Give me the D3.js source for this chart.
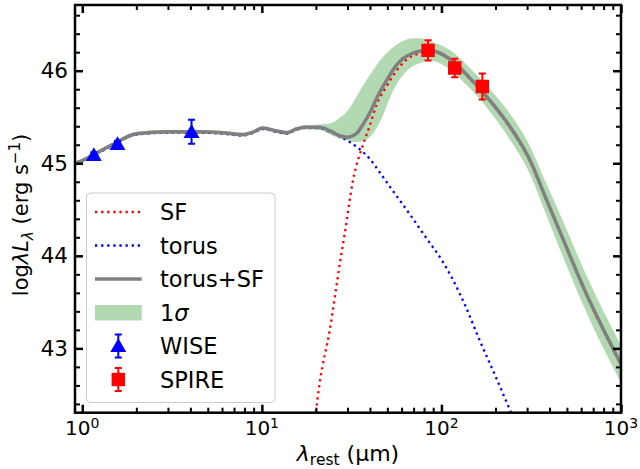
<!DOCTYPE html>
<html>
<head>
<meta charset="utf-8">
<script src="https://cdn.jsdelivr.net/npm/d3@7"></script>
<style>
body { margin: 0; background: #fff; }
svg { display: block; font-family: "DejaVu Sans", sans-serif; }
</style>
</head>
<body>
<div id="chart"></div>
<script>
// model grid (rest wavelength, micron) with total model and 1 sigma range
var modelWave  = [0.91, 1.0, 1.2, 1.5, 2.0, 3.0, 4.5, 6.0, 7.8, 9.0, 10.1, 12, 13.8, 15.5, 17.3, 21, 24, 27, 29.6, 33.6, 36.6, 39.8, 43.5, 47.3, 51.5, 56.2, 61, 69.5, 75.7, 86, 98, 116, 144, 186, 240, 310, 384, 455, 641, 1000];
var modelTotal = [45.00, 45.03, 45.11, 45.21, 45.32, 45.34, 45.34, 45.33, 45.31, 45.34, 45.38, 45.35, 45.33, 45.37, 45.39, 45.39, 45.35, 45.30, 45.28, 45.32, 45.42, 45.54, 45.70, 45.83, 45.95, 46.06, 46.13, 46.19, 46.21, 46.22, 46.19, 46.10, 45.92, 45.68, 45.40, 45.04, 44.61, 44.27, 43.59, 42.83];
var modelLow   = [44.98, 45.01, 45.09, 45.19, 45.30, 45.32, 45.32, 45.31, 45.29, 45.32, 45.36, 45.33, 45.31, 45.35, 45.37, 45.36, 45.31, 45.27, 45.25, 45.23, 45.24, 45.28, 45.38, 45.52, 45.70, 45.85, 45.95, 46.05, 46.08, 46.11, 46.08, 45.98, 45.81, 45.56, 45.26, 44.89, 44.44, 44.08, 43.39, 42.63];
var modelHigh  = [45.02, 45.05, 45.13, 45.23, 45.34, 45.36, 45.36, 45.35, 45.33, 45.36, 45.40, 45.37, 45.35, 45.39, 45.41, 45.42, 45.43, 45.49, 45.55, 45.72, 45.84, 45.95, 46.06, 46.15, 46.22, 46.28, 46.32, 46.35, 46.35, 46.32, 46.28, 46.20, 46.03, 45.80, 45.54, 45.19, 44.78, 44.46, 43.79, 43.03];

// torus component
var torusWave = [0.91, 1.0, 1.2, 1.5, 2.0, 3.0, 4.5, 6.0, 7.8, 9.0, 10.1, 12, 13.8, 15.5, 17.3, 21, 24, 27, 29.6, 33.6, 36.6, 39.8, 45.4, 51.5, 58.6, 69.5, 82.5, 100, 116, 138, 163, 200, 240, 260];
var torusLum  = [44.99, 45.02, 45.10, 45.20, 45.31, 45.33, 45.33, 45.32, 45.30, 45.33, 45.37, 45.34, 45.32, 45.36, 45.38, 45.38, 45.34, 45.29, 45.25, 45.18, 45.12, 45.05, 44.90, 44.75, 44.60, 44.40, 44.19, 43.96, 43.74, 43.43, 43.09, 42.70, 42.34, 42.18];

// star formation component
var sfWave = [19.8, 21, 23.9, 27.2, 29, 32.2, 36.6, 39.8, 43.5, 49.4, 56.2, 64, 75.7, 86, 98, 116, 144, 186, 240, 310, 384, 455, 641, 1000];
var sfLum  = [42.25, 42.63, 43.20, 43.92, 44.25, 44.82, 45.20, 45.40, 45.63, 45.83, 46.00, 46.12, 46.19, 46.21, 46.18, 46.09, 45.91, 45.67, 45.39, 45.03, 44.60, 44.26, 43.58, 42.82];

// photometry
var wiseWave = [1.16, 1.57, 4.06];
var wiseLum  = [45.09, 45.21, 45.34];
var wiseErr  = [0.03, 0.03, 0.13];
var spireWave = [84.3, 118.6, 169];
var spireLum  = [46.22, 46.03, 45.83];
var spireErr  = [0.11, 0.10, 0.14];

var legendLabels = ['SF', 'torus', 'torus+SF', '1σ', 'WISE', 'SPIRE'];

var svgWidth = 640;
var svgHeight = 469;
var margin = { top: 5, right: 19, bottom: 56.3, left: 75 };
var width = svgWidth - margin.left - margin.right;
var height = svgHeight - margin.top - margin.bottom;

var svg = d3.select('#chart').append('svg')
    .attr('width', svgWidth)
    .attr('height', svgHeight);

var chartGroup = svg.append('g')
    .attr('transform', `translate(${margin.left},${margin.top})`);

var x = d3.scaleLog().domain([0.911, 1000]).range([0, width]);
var y = d3.scaleLinear().domain([42.305, 46.71]).range([height, 0]);

chartGroup.append('clipPath').attr('id', 'clip')
    .append('rect').attr('width', width).attr('height', height);

var plot = chartGroup.append('g').attr('clip-path', 'url(#clip)');

// 1 sigma band
var band = modelWave.map((w, i) => ({ w: w, lo: modelLow[i], hi: modelHigh[i] }));
plot.append('path')
    .datum(band)
    .attr('d', d3.area().curve(d3.curveMonotoneX)
        .x(d => x(d.w)).y0(d => y(d.lo)).y1(d => y(d.hi)))
    .attr('fill', 'green')
    .attr('fill-opacity', 0.3);

var line = d3.line().curve(d3.curveMonotoneX).x(d => x(d[0])).y(d => y(d[1]));

plot.append('path')
    .datum(sfWave.map((w, i) => [w, sfLum[i]]))
    .attr('d', line)
    .attr('fill', 'none').attr('stroke', 'red')
    .attr('stroke-width', 2.3).attr('stroke-dasharray', '2.3,3.8');

plot.append('path')
    .datum(torusWave.map((w, i) => [w, torusLum[i]]))
    .attr('d', line)
    .attr('fill', 'none').attr('stroke', 'blue')
    .attr('stroke-width', 2.3).attr('stroke-dasharray', '2.3,3.8');

plot.append('path')
    .datum(modelWave.map((w, i) => [w, modelTotal[i]]))
    .attr('d', line)
    .attr('fill', 'none').attr('stroke', 'gray')
    .attr('stroke-width', 3.5);

// error bars + markers
function drawPoints(g, waves, lums, errs, color, shape) {
    waves.forEach(function(w, i) {
        var cx = x(w), cy = y(lums[i]);
        var y1 = y(lums[i] + errs[i]), y2 = y(lums[i] - errs[i]);
        g.append('line').attr('x1', cx).attr('x2', cx).attr('y1', y1).attr('y2', y2)
            .attr('stroke', color).attr('stroke-width', 2);
        [y1, y2].forEach(function(yy) {
            g.append('line').attr('x1', cx - 3.5).attr('x2', cx + 3.5).attr('y1', yy).attr('y2', yy)
                .attr('stroke', color).attr('stroke-width', 2);
        });
        g.append('path')
            .attr('d', d3.symbol().type(shape).size(shape === d3.symbolSquare ? 180 : 110)())
            .attr('transform', shape === d3.symbolSquare ? `translate(${cx},${cy})` : `translate(${cx},${cy + 1.5})`)
            .attr('fill', color);
    });
}
drawPoints(plot, wiseWave, wiseLum, wiseErr, 'blue', d3.symbolTriangle);
drawPoints(plot, spireWave, spireLum, spireErr, 'red', d3.symbolSquare);

// axes with inward ticks on all four sides
var xMajor = [1, 10, 100, 1000];
var xMinor = [];
[1, 10, 100].forEach(function(dec) {
    for (var k = 2; k <= 9; k++) xMinor.push(dec * k);
});
var yMajor = [43, 44, 45, 46];
var yMinor = [];
for (var v = 42.4; v < 46.7; v += 0.2) {
    var r = Math.round(v * 10) / 10;
    if (yMajor.indexOf(r) < 0) yMinor.push(r);
}

function styleAxis(g, w) {
    g.select('.domain').remove();
    g.selectAll('line').attr('stroke', 'black').attr('stroke-width', w);
    g.selectAll('text').remove();
}

chartGroup.append('g').attr('transform', `translate(0,${height})`)
    .call(d3.axisBottom(x).tickValues(xMajor).tickSize(-8)).call(styleAxis, 2.5);
chartGroup.append('g').attr('transform', `translate(0,${height})`)
    .call(d3.axisBottom(x).tickValues(xMinor).tickSize(-5)).call(styleAxis, 2);
chartGroup.append('g')
    .call(d3.axisTop(x).tickValues(xMajor).tickSize(-8)).call(styleAxis, 2.5);
chartGroup.append('g')
    .call(d3.axisTop(x).tickValues(xMinor).tickSize(-5)).call(styleAxis, 2);

var leftAxis = chartGroup.append('g')
    .call(d3.axisLeft(y).tickValues(yMajor).tickSize(-8).tickPadding(7).tickFormat(d3.format('d')));
leftAxis.select('.domain').remove();
leftAxis.selectAll('line').attr('stroke', 'black').attr('stroke-width', 2.5);
leftAxis.selectAll('text').attr('x', -7).attr('font-size', '21.5px').attr('fill', 'black')
    .attr('font-family', '"DejaVu Sans", sans-serif');
chartGroup.append('g')
    .call(d3.axisLeft(y).tickValues(yMinor).tickSize(-5)).call(styleAxis, 2);
chartGroup.append('g').attr('transform', `translate(${width},0)`)
    .call(d3.axisRight(y).tickValues(yMajor).tickSize(-8)).call(styleAxis, 2.5);
chartGroup.append('g').attr('transform', `translate(${width},0)`)
    .call(d3.axisRight(y).tickValues(yMinor).tickSize(-5)).call(styleAxis, 2);

// frame
chartGroup.append('rect')
    .attr('width', width).attr('height', height)
    .attr('fill', 'none').attr('stroke', 'black').attr('stroke-width', 2.5);

// x tick labels as 10^n
xMajor.forEach(function(v) {
    var t = chartGroup.append('text')
        .attr('x', x(v)).attr('y', height + 22.5)
        .attr('text-anchor', 'middle').attr('font-size', '20px');
    t.append('tspan').text('10');
    t.append('tspan').attr('dy', -7).attr('font-size', '14px').text(Math.round(Math.log10(v)));
});

// axis labels
var xl = svg.append('text')
    .attr('x', margin.left + width / 2).attr('y', 461)
    .attr('text-anchor', 'middle').attr('font-size', '22px');
xl.append('tspan').attr('font-style', 'italic').text('λ');
xl.append('tspan').attr('dy', 4).attr('font-size', '15.5px').text('rest');
xl.append('tspan').attr('dy', -4).text(' (μm)');

var yl = svg.append('text')
    .attr('transform', 'translate(28,215) rotate(-90)')
    .attr('text-anchor', 'middle').attr('font-size', '21px');
yl.append('tspan').text('log');
yl.append('tspan').attr('font-style', 'italic').text('λL');
yl.append('tspan').attr('dy', 5).attr('font-size', '15px').attr('font-style', 'italic').text('λ');
yl.append('tspan').attr('dy', -5).text(' (erg s');
yl.append('tspan').attr('dy', -8).attr('font-size', '15px').text('−1');
yl.append('tspan').attr('dy', 8).text(')');

// legend
var legend = svg.append('g');
legend.append('rect')
    .attr('x', 86.5).attr('y', 193).attr('width', 188.5).attr('height', 209.5)
    .attr('rx', 4).attr('fill', 'white').attr('fill-opacity', 0.8)
    .attr('stroke', '#cccccc').attr('stroke-width', 1);

var rowY = [212, 245.5, 279, 312.5, 346, 379.5];
var hx0 = 95, hx1 = 141.7, hxm = 118.3;

legend.append('line').attr('x1', hx0).attr('x2', hx1).attr('y1', rowY[0]).attr('y2', rowY[0])
    .attr('stroke', 'red').attr('stroke-width', 2.3).attr('stroke-dasharray', '2.3,3.8');
legend.append('line').attr('x1', hx0).attr('x2', hx1).attr('y1', rowY[1]).attr('y2', rowY[1])
    .attr('stroke', 'blue').attr('stroke-width', 2.3).attr('stroke-dasharray', '2.3,3.8');
legend.append('line').attr('x1', hx0).attr('x2', hx1).attr('y1', rowY[2]).attr('y2', rowY[2])
    .attr('stroke', 'gray').attr('stroke-width', 3.5);
legend.append('rect').attr('x', hx0).attr('y', rowY[3] - 7.5).attr('width', hx1 - hx0).attr('height', 15.5)
    .attr('fill', 'green').attr('fill-opacity', 0.3);

[[rowY[4], 'blue', d3.symbolTriangle], [rowY[5], 'red', d3.symbolSquare]].forEach(function(m) {
    var yy = m[0];
    legend.append('line').attr('x1', hxm).attr('x2', hxm).attr('y1', yy - 11.5).attr('y2', yy + 11.5)
        .attr('stroke', m[1]).attr('stroke-width', 2);
    [yy - 11.5, yy + 11.5].forEach(function(cy) {
        legend.append('line').attr('x1', hxm - 3.5).attr('x2', hxm + 3.5).attr('y1', cy).attr('y2', cy)
            .attr('stroke', m[1]).attr('stroke-width', 2);
    });
    legend.append('path')
        .attr('d', d3.symbol().type(m[2]).size(m[2] === d3.symbolSquare ? 180 : 110)())
        .attr('transform', m[2] === d3.symbolSquare ? `translate(${hxm},${yy})` : `translate(${hxm},${yy + 1.5})`)
        .attr('fill', m[1]);
});

legendLabels.forEach(function(lab, i) {
    var t = legend.append('text').attr('x', 160).attr('y', rowY[i] + 8).attr('font-size', '22.5px');
    if (lab === '1σ') {
        t.append('tspan').text('1');
        t.append('tspan').attr('font-style', 'italic').text('σ');
    } else {
        t.text(lab);
    }
});
</script>
</body>
</html>
